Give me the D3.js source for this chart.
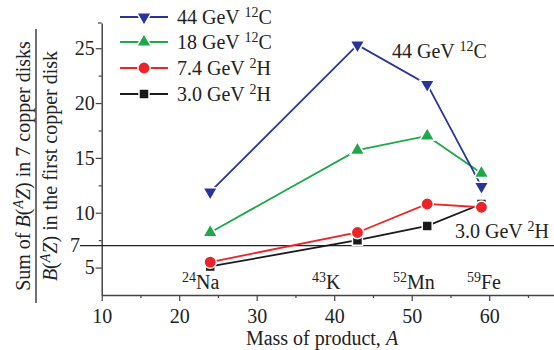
<!DOCTYPE html>
<html><head><meta charset="utf-8">
<script src="https://cdn.jsdelivr.net/npm/d3@7"></script>
<style>body{margin:0;background:#fff}svg text{font-family:"Liberation Serif",Tinos,"Times New Roman",Times,"DejaVu Serif","Noto Serif",serif !important}</style>
</head><body><svg id="c" width="554" height="350"></svg>
<script>
const masses = [24, 43, 52, 59];
const isotopes = [["24","Na"],["43","K"],["52","Mn"],["59","Fe"]];
const s44C = [11.9, 25.3, 21.7, 12.4];
const s18C = [8.2, 15.7, 17.0, 13.6];
const s74H = [5.5, 8.2, 10.8, 10.5];
const s30H = [5.1, 7.5, 8.8, 10.8];
const seriesNames = [["44 GeV ","12","C"],["18 GeV ","12","C"],["7.4 GeV ","2","H"],["3.0 GeV ","2","H"]];
const xTicks = [10,20,30,40,50,60];
const yTicks = [5,10,15,20,25];

const colors = ["#28349a","#1ea84a","#ec2328","#1a1a1a"];
const shapes = ["down","up","circle","square"];
const data = [s44C, s18C, s74H, s30H];

const svg = d3.select("#c");
const x = d3.scaleLinear().domain([10, 68.36]).range([101.7, 554]);
const y = d3.scaleLinear().domain([2.5, 27.3]).range([295, 23]);

// axes
const gx = svg.append("g").attr("transform","translate(0,295)");
gx.call(d3.axisBottom(x).tickValues(xTicks).tickSize(6).tickSizeOuter(0).tickFormat(d3.format("d")));
gx.append("g").call(d3.axisBottom(x).tickValues([15,25,35,45,55,65]).tickSize(3).tickFormat("").tickSizeOuter(0)).select(".domain").remove();
const gy = svg.append("g").attr("transform","translate(101.7,0)");
gy.call(d3.axisLeft(y).tickValues(yTicks).tickSize(6).tickSizeOuter(0).tickFormat(d3.format("d")));
gy.append("g").call(d3.axisLeft(y).tickValues([7.5,12.5,17.5,22.5]).tickSize(3).tickFormat("").tickSizeOuter(0)).select(".domain").remove();
svg.selectAll(".domain").attr("stroke","#444").attr("stroke-width",1.5);
svg.selectAll(".tick line").attr("stroke","#444").attr("stroke-width",1.2);
svg.selectAll(".tick text").attr("font-size",20).attr("fill","#222");
gx.selectAll(".tick text").attr("dy","0.95em");
gy.selectAll(".tick text").attr("x",-7);
svg.append("line").attr("x1",98).attr("x2",101.7).attr("y1",y(27.3)).attr("y2",y(27.3)).attr("stroke","#444").attr("stroke-width",1.2);

// 7 reference line
svg.append("line").attr("x1",80).attr("x2",554).attr("y1",y(7)).attr("y2",y(7)).attr("stroke","#222").attr("stroke-width",1.4);
svg.append("text").attr("x",80).attr("y",y(7)).attr("dy","0.3em").attr("text-anchor","end").attr("font-size",20).attr("fill","#222").text("7");

function supText(sel, pre, sup, main, supSize){
  if(pre) sel.append("tspan").text(pre);
  sel.append("tspan").attr("font-size",supSize).attr("dy",-7).text(sup);
  sel.append("tspan").attr("dy",7).text(main);
}
const isoX = [182, 312, 393, 467];
isotopes.forEach((d,i)=>{
  const t = svg.append("text").attr("x",isoX[i]).attr("y",289).attr("font-size",20).attr("fill","#222");
  supText(t, null, d[0], d[1], 14);
});

// series
const line = d3.line().x((d,i)=>x(masses[i])).y(d=>y(d));
const order = [3,2,1,0];
order.forEach(k=>{
  svg.append("path").datum(data[k]).attr("d",line).attr("fill","none").attr("stroke",colors[k]).attr("stroke-width",1.8);
});
function marker(g, shape, cx, cy, col){
  let sym, sz, rot = 0;
  if(shape==="down"){sym=d3.symbolTriangle; sz=95; rot=180;}
  else if(shape==="up"){sym=d3.symbolTriangle; sz=95;}
  else if(shape==="circle"){sym=d3.symbolCircle; sz=120;}
  else {sym=d3.symbolSquare; sz=100;}
  g.append("path").attr("d",d3.symbol().type(sym).size(sz)())
   .attr("transform",`translate(${cx},${cy}) rotate(${rot})`)
   .attr("fill",col).attr("stroke","#fff").attr("stroke-width",1.5);
}
order.forEach(k=>{
  const g = svg.append("g");
  data[k].forEach((v,i)=>marker(g, shapes[k], x(masses[i]), y(v), colors[k]));
});

// legend
const legY = [17, 42, 68, 94];
seriesNames.forEach((n,k)=>{
  svg.append("line").attr("x1",120).attr("x2",168).attr("y1",legY[k]).attr("y2",legY[k]).attr("stroke",colors[k]).attr("stroke-width",1.8);
  marker(svg, shapes[k], 144, legY[k], colors[k]);
  const t = svg.append("text").attr("x",177).attr("y",legY[k]+7).attr("font-size",20).attr("fill","#222");
  supText(t, n[0], n[1], n[2], 14);
});

// annotations
const a1 = svg.append("text").attr("x",392).attr("y",58).attr("font-size",20).attr("fill","#222");
supText(a1, "44 GeV ", "12", "C", 14);
const a2 = svg.append("text").attr("x",455).attr("y",238).attr("font-size",20).attr("fill","#222");
supText(a2, "3.0 GeV ", "2", "H", 14);

// y label (fraction)
const yl = svg.append("g").attr("transform","translate(0,166) rotate(-90)");
const num = yl.append("text").attr("x",0).attr("y",30).attr("text-anchor","middle").attr("font-size",20).attr("fill","#222");
num.append("tspan").text("Sum of ");
num.append("tspan").attr("font-style","italic").text("B");
num.append("tspan").text("(");
num.append("tspan").attr("font-style","italic").attr("font-size",14).attr("dy",-7).text("A");
num.append("tspan").attr("font-style","italic").attr("dy",7).text("Z");
num.append("tspan").text(") in 7 copper disks");
yl.append("line").attr("x1",-137).attr("x2",137).attr("y1",36).attr("y2",36).attr("stroke","#222").attr("stroke-width",1.3);
const den = yl.append("text").attr("x",0).attr("y",57).attr("text-anchor","middle").attr("font-size",20).attr("fill","#222");
den.append("tspan").attr("font-style","italic").text("B");
den.append("tspan").text("(");
den.append("tspan").attr("font-style","italic").attr("font-size",14).attr("dy",-7).text("A");
den.append("tspan").attr("font-style","italic").attr("dy",7).text("Z");
den.append("tspan").text(") in the first copper disk");

// x title
const xt = svg.append("text").attr("x",322).attr("y",345).attr("text-anchor","middle").attr("font-size",20).attr("fill","#222");
xt.append("tspan").text("Mass of product, ");
xt.append("tspan").attr("font-style","italic").text("A");
</script></body></html>
